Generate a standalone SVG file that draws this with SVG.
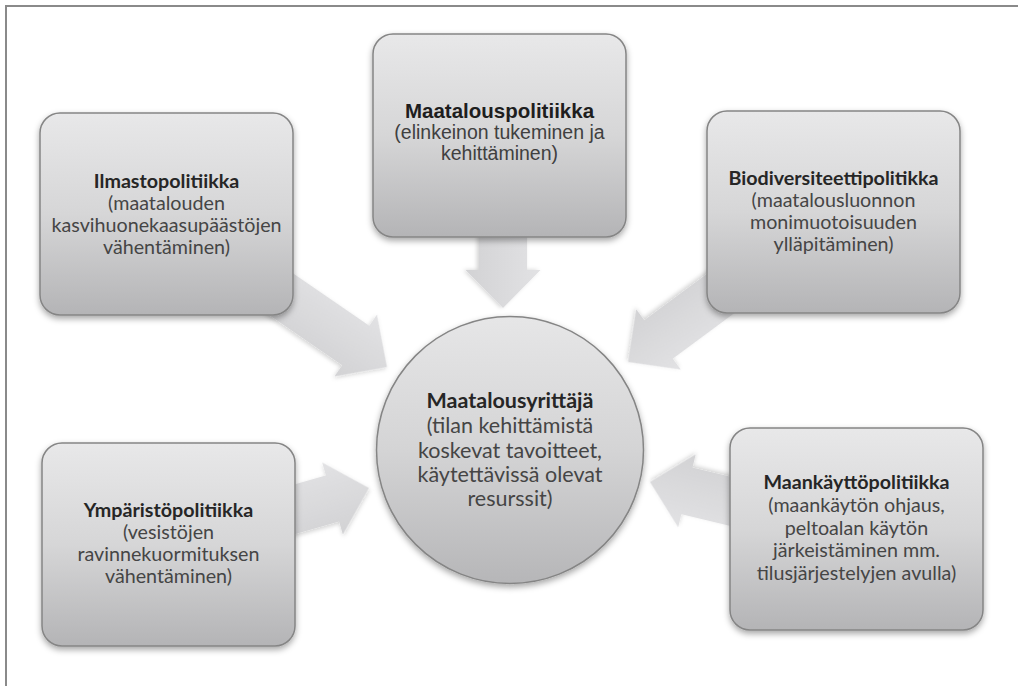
<svg xmlns="http://www.w3.org/2000/svg" width="1018" height="686" viewBox="0 0 1018 686">
<style>
.box{fill:url(#gBox);stroke:#858585;stroke-width:1.5;filter:url(#sh)}
.arr{fill:url(#gArr);filter:url(#shA)}
.t{font-family:Lato,"Open Sans","Liberation Sans",sans-serif;font-size:19.7px;text-anchor:middle;fill:#454545}
.t .b{font-weight:bold;fill:#262626}
.a{font-family:"Liberation Sans",Arial,sans-serif;font-size:19.5px;text-anchor:middle;fill:#404040}
.a .b{font-weight:bold;font-size:20.5px;fill:#1e1e1e}
.c{font-size:21.5px}
</style>
<defs>
<linearGradient id="gBox" x1="0" y1="0" x2="0" y2="1">
<stop offset="0" stop-color="#e8e8e9"/>
<stop offset="0.5" stop-color="#d6d6d7"/>
<stop offset="1" stop-color="#b4b4b6"/>
</linearGradient>
<linearGradient id="gCir" x1="0" y1="0" x2="0" y2="1">
<stop offset="0" stop-color="#e6e6e7"/>
<stop offset="0.5" stop-color="#d4d4d5"/>
<stop offset="1" stop-color="#b6b6b8"/>
</linearGradient>
<linearGradient id="gArr" x1="0" y1="0" x2="0" y2="1">
<stop offset="0" stop-color="#e2e2e4"/>
<stop offset="1" stop-color="#d2d2d4"/>
</linearGradient>
<filter id="sh" x="-10%" y="-10%" width="125%" height="130%">
<feDropShadow dx="0" dy="3" stdDeviation="3" flood-color="#000" flood-opacity="0.35"/>
</filter>
<filter id="shA" x="-20%" y="-20%" width="140%" height="140%">
<feDropShadow dx="0" dy="2" stdDeviation="2" flood-color="#000" flood-opacity="0.18"/>
</filter>
</defs>
<rect x="0" y="0" width="1018" height="686" fill="#ffffff"/>
<rect x="6" y="6" width="1100" height="800" fill="none" stroke="#8a8a8a" stroke-width="2"/>
<g id="connectors">
<path class="arr" transform="translate(503,308) rotate(90)" d="M0,0 L-38,-37.5 L-38,-24 L-80,-24 L-80,24 L-38,24 L-38,37.5 Z"/>
<path class="arr" transform="translate(387,367) rotate(34.5)" d="M0,0 L-38,-37.5 L-38,-24 L-140,-24 L-140,24 L-38,24 L-38,37.5 Z"/>
<path class="arr" transform="translate(628,362) rotate(143.5)" d="M0,0 L-38,-37.5 L-38,-24 L-135,-24 L-135,24 L-38,24 L-38,37.5 Z"/>
<path class="arr" transform="translate(369,488) rotate(-16)" d="M0,0 L-38,-37.5 L-38,-24 L-95,-24 L-95,24 L-38,24 L-38,37.5 Z"/>
<path class="arr" transform="translate(650,482) rotate(193.5)" d="M0,0 L-38,-37.5 L-38,-24 L-105,-24 L-105,24 L-38,24 L-38,37.5 Z"/>
</g>
<g id="node-ilmasto">
<rect class="box" x="40" y="113" width="253" height="202" rx="20"/>
<text class="t"><tspan class="b" x="166.5" y="188">Ilmastopolitiikka</tspan><tspan x="166.5" y="210">(maatalouden</tspan><tspan x="166.5" y="232">kasvihuonekaasupäästöjen</tspan><tspan x="166.5" y="254">vähentäminen)</tspan></text>
</g>
<g id="node-maatalous">
<rect class="box" x="373" y="34" width="253" height="203" rx="20"/>
<text class="a"><tspan class="b" x="499.5" y="118">Maatalouspolitiikka</tspan><tspan x="499.5" y="139">(elinkeinon tukeminen ja</tspan><tspan x="499.5" y="160">kehittäminen)</tspan></text>
</g>
<g id="node-biodiversiteetti">
<rect class="box" x="707" y="111" width="253" height="202" rx="20"/>
<text class="t"><tspan class="b" x="833.5" y="185">Biodiversiteettipolitikka</tspan><tspan x="833.5" y="207">(maatalousluonnon</tspan><tspan x="833.5" y="229">monimuotoisuuden</tspan><tspan x="833.5" y="251">ylläpitäminen)</tspan></text>
</g>
<g id="node-ymparisto">
<rect class="box" x="42" y="443" width="253" height="203" rx="20"/>
<text class="t"><tspan class="b" x="168.5" y="517">Ympäristöpolitiikka</tspan><tspan x="168.5" y="539">(vesistöjen</tspan><tspan x="168.5" y="561">ravinnekuormituksen</tspan><tspan x="168.5" y="583">vähentäminen)</tspan></text>
</g>
<g id="node-maankaytto">
<rect class="box" x="730" y="428" width="253" height="202" rx="20"/>
<text class="t"><tspan class="b" x="856.5" y="489">Maankäyttöpolitiikka</tspan><tspan x="856.5" y="512">(maankäytön ohjaus,</tspan><tspan x="856.5" y="535">peltoalan käytön</tspan><tspan x="856.5" y="557">järkeistäminen mm.</tspan><tspan x="856.5" y="580">tilusjärjestelyjen avulla)</tspan></text>
</g>
<g id="node-center">
<circle cx="510" cy="450" r="133.5" fill="url(#gCir)" stroke="#858585" stroke-width="1.5" filter="url(#sh)"/>
<text class="t c"><tspan class="b" x="510" y="408">Maatalousyrittäjä</tspan><tspan x="510" y="433">(tilan kehittämistä</tspan><tspan x="510" y="457.5">koskevat tavoitteet,</tspan><tspan x="510" y="482">käytettävissä olevat</tspan><tspan x="510" y="506">resurssit)</tspan></text>
</g>
</svg>
